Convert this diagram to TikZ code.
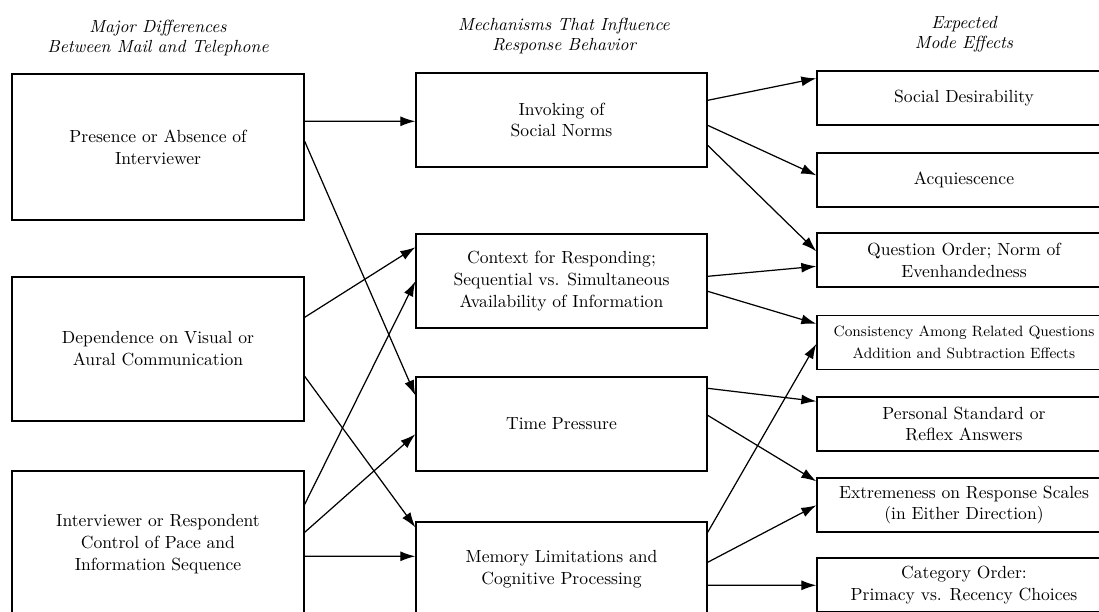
\documentclass[tikz,border=0pt]{standalone}
\usepackage{tikz}
\usetikzlibrary{
  positioning,
  calc,
  arrows.meta
}
\tikzstyle{box}=[draw, line width=0.8pt, align=center, inner sep=2pt, font=\fontsize{10}{12.5}\selectfont]
\tikzstyle{head}=[align=center, font=\itshape\fontsize{10}{11.5}\selectfont]
\tikzstyle{link}=[-{Latex[length=3mm, width=2mm]}, line width=0.7pt]

\begin{document}
\begin{tikzpicture}[x=0.02cm, y=-0.02cm]
        \def\wL{5.84cm};
        \def\wM{5.82cm};
        \def\wR{5.88cm};
        \def\hM{1.88cm};
        \def\hR{1.08cm};

        % 画像の範囲
        \useasboundingbox (0,0) rectangle (1099,612);
        \clip (0,0) rectangle (1099,612);

        % 見出し
        \node[head] (hdiff) at (158,38) {Major Differences\\Between Mail and Telephone};
        \node[head] (hmech) at (564,36) {Mechanisms That Influence\\Response Behavior};
        \node[head] (heff) at (964,34) {Expected\\Mode Effects};

        % 左の列
        \node[box, minimum width=\wL, minimum height=2.92cm] (presence) at (158,147) {Presence or Absence of\\Interviewer};
        \node[box, minimum width=\wL, minimum height=2.88cm] (visual) at (158,349) {Dependence on Visual or\\Aural Communication};
        \node[box, minimum width=\wL, minimum height=2.92cm] (pace) at (158,544) {Interviewer or Respondent\\Control of Pace and\\Information Sequence};

        % 中央の列
        \node[box, minimum width=\wM, minimum height=\hM] (norms) at (561.5,120) {Invoking of\\Social Norms};
        \node[box, minimum width=\wM, minimum height=\hM] (context) at (561.5,281) {Context for Responding;\\Sequential vs. Simultaneous\\Availability of Information};
        \node[box, minimum width=\wM, minimum height=\hM] (timepr) at (561.5,424) {Time Pressure};
        \node[box, minimum width=\wM, minimum height=\hM] (memory) at (561.5,569) {Memory Limitations and\\Cognitive Processing};

        % 右の列
        \node[box, minimum width=\wR, minimum height=\hR] (desir) at (964,98) {Social Desirability};
        \node[box, minimum width=\wR, minimum height=\hR] (acquies) at (964,180) {Acquiescence};
        \node[box, minimum width=\wR, minimum height=\hR] (order) at (964,260) {Question Order; Norm of\\Evenhandedness};
        \node[box, minimum width=\wR, minimum height=\hR, inner xsep=0pt, font=\fontsize{8.5}{12.5}\selectfont] (consist) at (964,342.5) {Consistency Among Related Questions\\Addition and Subtraction Effects};
        \node[box, minimum width=\wR, minimum height=\hR] (personal) at (964,424) {Personal Standard or\\Reflex Answers};
        \node[box, minimum width=\wR, minimum height=\hR] (extreme) at (964,505) {Extremeness on Response Scales\\(in Either Direction)};
        \node[box, minimum width=\wR, minimum height=\hR] (category) at (964,585) {Category Order:\\Primacy vs. Recency Choices};

        % 左から中央への矢印
        \draw[link] ($(presence.north east)+(0,48)$) -- ($(norms.north west)+(0,49)$);
        \draw[link] ($(presence.north east)+(0,68)$) -- ($(timepr.north west)+(0,19)$);
        \draw[link] ($(visual.north east)+(0,41)$) -- ($(context.north west)+(0,14)$);
        \draw[link] ($(visual.north east)+(0,100)$) -- ($(memory.north west)+(0,6)$);
        \draw[link] ($(pace.north east)+(0,34)$) -- ($(context.north west)+(0,48)$);
        \draw[link] ($(pace.north east)+(0,62)$) -- ($(timepr.north west)+(0,58)$);
        \draw[link] ($(pace.north east)+(0,86)$) -- ($(memory.north west)+(0,35)$);

        % 中央から右への矢印
        \draw[link] ($(norms.north east)+(0,28)$) -- ($(desir.north west)+(0,8)$);
        \draw[link] ($(norms.north east)+(0,53)$) -- ($(acquies.north west)+(0,23)$);
        \draw[link] ($(norms.north east)+(0,73)$) -- ($(order.north west)+(0,19)$);
        \draw[link] ($(context.north east)+(0,43)$) -- ($(order.north west)+(0,34)$);
        \draw[link] ($(context.north east)+(0,58)$) -- ($(consist.north west)+(0,9)$);
        \draw[link] ($(timepr.north east)+(0,12)$) -- ($(personal.north west)+(0,5)$);
        \draw[link] ($(timepr.north east)+(0,39)$) -- ($(extreme.north west)+(0,4)$);
        \draw[link] ($(memory.north east)+(0,11)$) -- ($(consist.north west)+(0,29)$);
        \draw[link] ($(memory.north east)+(0,41)$) -- ($(extreme.north west)+(0,28)$);
        \draw[link] ($(memory.north east)+(0,64)$) -- ($(category.north west)+(0,28)$);
      \end{tikzpicture}
\end{document}
